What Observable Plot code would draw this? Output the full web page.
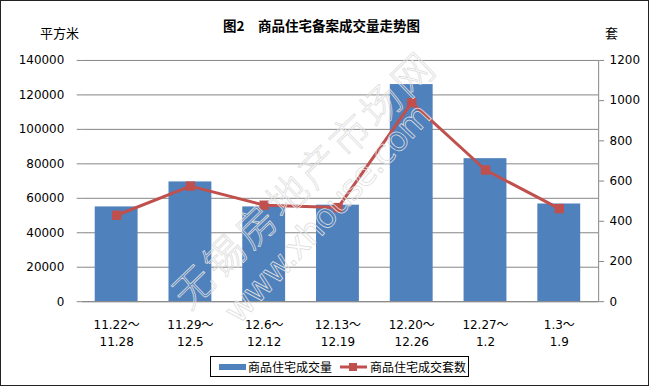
<!DOCTYPE html>
<html>
<head>
<meta charset="utf-8">
<script src="https://cdn.jsdelivr.net/npm/d3@7"></script>
<script src="https://cdn.jsdelivr.net/npm/@observablehq/plot@0.6"></script>
<style>
  html, body { margin: 0; padding: 0; background: #fff; }
  #frame { position: relative; width: 649px; height: 386px; box-sizing: border-box; border: 1px solid #222; overflow: hidden;
           font-family: "DejaVu Sans", "Noto Sans CJK SC", sans-serif; }
  #title { position: absolute; top: 14px; left: 0; width: 641px; text-align: center; font: bold 13.5px "Noto Sans CJK SC", sans-serif; color: #000; }
  .unit { position: absolute; top: 22px; font: 13px "Noto Sans CJK SC", sans-serif; color: #000; }
  #chart { position: absolute; top: 42px; left: 0; }
  #legend { position: absolute; left: 209px; top: 355px; width: 259px; height: 21px; box-sizing: border-box; border: 1px solid #000;
            display: flex; align-items: center; font: 12px "Noto Sans CJK SC", sans-serif; color: #000; white-space: nowrap; }
  .sw { display: inline-block; }
  #wm { position: absolute; left: 0; top: 0; pointer-events: none; }
</style>
</head>
<body>
<div id="frame">
  <div id="title">图2　商品住宅备案成交量走势图</div>
  <div class="unit" style="left:39px">平方米</div>
  <div class="unit" style="left:604px">套</div>
  <div id="chart"></div>
  <div id="legend">
    <span class="sw" style="width:27px;height:6px;background:#4F81BD;margin-left:8px;margin-right:2px"></span>
    <span>商品住宅成交量</span>
    <svg width="29" height="12" style="margin-left:7px;margin-right:2px"><line x1="1" y1="6" x2="28" y2="6" stroke="#C0504D" stroke-width="3"/><rect x="10" y="2" width="8" height="8" fill="#C0504D"/></svg>
    <span>商品住宅成交套数</span>
  </div>
  <svg id="wm" width="649" height="386">
    <text transform="translate(188,310) rotate(-44)" textLength="345" font-family="'Noto Sans CJK SC'" font-weight="300" font-size="40" fill="none" stroke="#dedede" stroke-width="0.8">无锡房地产市场网</text>
    <text transform="translate(238,324) rotate(-47)" textLength="285" font-family="'DejaVu Sans'" font-size="34" fill="none" stroke="#dedede" stroke-width="0.8">www.xhouse.com</text>
  </svg>
</div>
<script>
const categories = ["11.22～11.28", "11.29～12.5", "12.6～12.12", "12.13～12.19", "12.20～12.26", "12.27～1.2", "1.3～1.9"];
const areaValues = [55000, 69500, 55000, 56000, 126000, 83000, 56700];
const unitValues = [430, 575, 480, 468, 990, 655, 463];
const leftTicks = [0, 20000, 40000, 60000, 80000, 100000, 120000, 140000];
const rightTicks = [0, 200, 400, 600, 800, 1000, 1200];

const leftMax = 140000, rightMax = 1200;
const k = leftMax / rightMax;
const data = categories.map((c, i) => ({cat: c, area: areaValues[i], units: unitValues[i]}));

const chart = Plot.plot({
  width: 649,
  height: 310,
  marginLeft: 81,
  marginRight: 50,
  marginTop: 17,
  marginBottom: 51,
  style: {fontFamily: "'DejaVu Sans', 'Noto Sans CJK SC', sans-serif", fontSize: "12px", color: "#000", background: "transparent"},
  x: {domain: categories, paddingInner: 0.42, paddingOuter: 0.21, insetLeft: -5},
  y: {domain: [0, leftMax]},
  marks: [
    Plot.gridY(leftTicks, {stroke: "#868686", strokeOpacity: 1, strokeWidth: 1}),
    Plot.barY(data, {x: "cat", y: "area", fill: "#4F81BD"}),
    Plot.ruleY([0], {stroke: "#868686", strokeWidth: 1}),
    Plot.axisY(leftTicks, {anchor: "left", tickSize: 5, tickPadding: 13, stroke: "#868686", tickFormat: d3.format("d"), label: null}),
    Plot.axisY(rightTicks.map(v => v * k), {anchor: "right", tickSize: 5, tickPadding: 6, stroke: "#868686", tickFormat: v => String(Math.round(v / k)), label: null}),
    Plot.frame({anchor: "right", stroke: "#868686"}),
    Plot.axisX({anchor: "bottom", tickSize: 0, tickPadding: 15, tickFormat: d => d.replace("～", "～\n"), lineHeight: 1.42, label: null, fontFamily: "'DejaVu Sans', 'Noto Sans CJK SC', sans-serif"}),
    Plot.line(data, {x: "cat", y: d => d.units * k, stroke: "#C0504D", strokeWidth: 3}),
    Plot.dot(data, {x: "cat", y: d => d.units * k, symbol: "square", r: 5.3, fill: "#C0504D", stroke: "none"})
  ]
});
document.getElementById("chart").appendChild(chart);
</script>
</body>
</html>
